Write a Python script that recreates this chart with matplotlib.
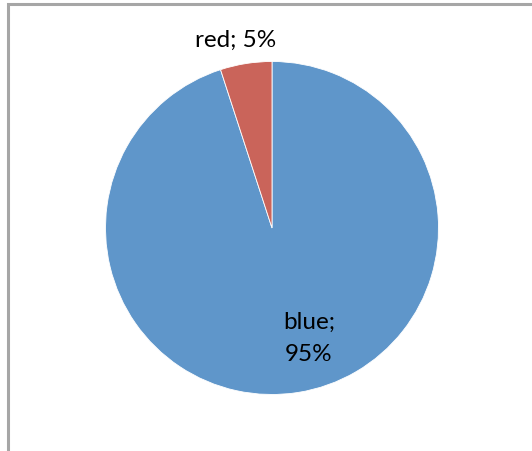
import matplotlib
matplotlib.use("Agg")
import matplotlib.pyplot as plt
from matplotlib.patches import Rectangle

labels = ["blue", "red"]
values = [95, 5]
colors = ["#5F96CA", "#CA645A"]

W, H, DPI = 532, 451, 100
fig = plt.figure(figsize=(W / DPI, H / DPI), dpi=DPI)
fig.patch.set_facecolor("white")

# chart frame
fig.patches.append(Rectangle((8 / W, -0.1), 1.2, (H - 4) / H + 0.1, transform=fig.transFigure,
                             fill=False, edgecolor="#A6A6A6", linewidth=2.2))

cx, cy, r = 272.0, 228.0, 166.5
ax = fig.add_axes([0, 0, 1, 1])

ax.pie(values, colors=colors, startangle=90, counterclock=False, radius=1,
       wedgeprops=dict(edgecolor="white", linewidth=0.6))
ax.set_aspect("auto")
ax.set_xlim(-cx / r, (W - cx) / r)
ax.set_ylim(-(H - cy) / r, cy / r)
ax.axis("off")

font = ["Lato", "DejaVu Sans"]
fs = 17.5
total = sum(values)
pct = [v * 100 // total for v in values]
ax.text(-0.219, 1.087, f"{labels[1]}; {pct[1]}%", ha="center", va="baseline",
        fontsize=fs, family=font, color="#000000")
ax.text(0.222, -0.607, f"{labels[0]};", ha="center", va="baseline",
        fontsize=fs, family=font, color="#000000")
ax.text(0.222, -0.799, f"{pct[0]}%", ha="center", va="baseline",
        fontsize=fs, family=font, color="#000000")

fig.savefig("out.png", dpi=DPI)
